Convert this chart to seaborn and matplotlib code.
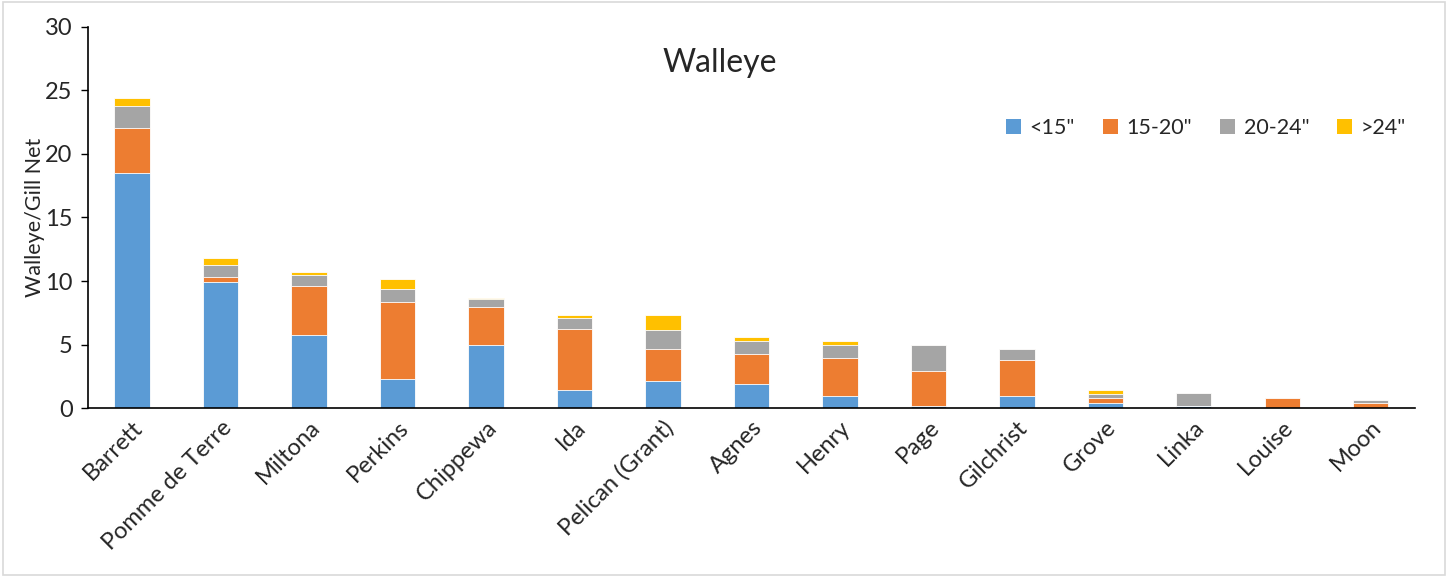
import matplotlib
matplotlib.use("Agg")
import matplotlib.pyplot as plt
from matplotlib.patches import Patch, Rectangle
import numpy as np
import pandas as pd
import seaborn as sns

lakes = ["Barrett", "Pomme de Terre", "Miltona", "Perkins", "Chippewa", "Ida",
         "Pelican (Grant)", "Agnes", "Henry", "Page", "Gilchrist", "Grove",
         "Linka", "Louise", "Moon"]
under15 = [18.5, 9.95, 5.73, 2.33, 5.0, 1.47, 2.15, 1.94, 0.97, 0.16, 0.97, 0.45, 0.16, 0.0, 0.0]
s15_20 = [3.55, 0.4, 3.9, 6.05, 2.98, 4.76, 2.51, 2.35, 3.01, 2.8, 2.85, 0.36, 0.0, 0.81, 0.45]
s20_24 = [1.7, 0.94, 0.87, 0.97, 0.63, 0.86, 1.47, 1.02, 0.99, 2.01, 0.87, 0.34, 1.02, 0.0, 0.2]
over24 = [0.66, 0.5, 0.18, 0.81, 0.05, 0.27, 1.2, 0.32, 0.34, 0.0, 0.0, 0.32, 0.0, 0.0, 0.0]
series_names = ['<15"', '15-20"', '20-24"', '>24"']
colors = ["#5B9BD5", "#ED7D31", "#A5A5A5", "#FFC000"]

sns.set_style("white")
plt.rcParams["font.family"] = ["Lato", "DejaVu Sans"]

fig = plt.figure(figsize=(14.49, 5.77), dpi=100)
ax = fig.add_axes([0.0607, 0.2924, 0.9158, 0.6616])

vals = np.array([under15, s15_20, s20_24, over24])
cum = np.cumsum(vals, axis=0)
for i in range(3, -1, -1):
    df = pd.DataFrame({"lake": lakes, "v": cum[i]})
    sns.barplot(data=df, x="lake", y="v", color=colors[i], width=0.4,
                edgecolor="white", linewidth=0.6, saturation=1, ax=ax, order=lakes)

ax.set_ylim(0, 30)
ax.set_xlim(-0.5, len(lakes) - 0.5)
ax.set_yticks(range(0, 31, 5))
ax.tick_params(axis="y", labelsize=17, length=5, width=1, direction="out", color="black", left=True, pad=6)
ax.tick_params(axis="x", labelsize=17, length=0, pad=6)
for lbl in ax.get_xticklabels():
    lbl.set_rotation(45)
    lbl.set_ha("right")
    lbl.set_rotation_mode("anchor")
ax.set_xlabel("")
ax.set_ylabel("Walleye/Gill Net", fontsize=15.5, labelpad=0)
for s in ["top", "right"]:
    ax.spines[s].set_visible(False)
for s in ["left", "bottom"]:
    ax.spines[s].set_color("black")
    ax.spines[s].set_linewidth(1.2)

ax.text(0.476, 0.905, "Walleye", transform=ax.transAxes, ha="center", va="center", fontsize=23)

handles = [Patch(facecolor=c, edgecolor="none") for c in colors]
ax.legend(handles, series_names, loc="center right", bbox_to_anchor=(1.008, 0.735),
          ncol=4, frameon=False, fontsize=15.5, handlelength=0.7, handleheight=0.7,
          handletextpad=0.4, columnspacing=1.3)

fig.patches.append(Rectangle((0.002, 0.003), 0.995, 0.994, transform=fig.transFigure,
                             fill=False, edgecolor="#D9D9D9", linewidth=1.2))

fig.savefig("out.png", dpi=100)
